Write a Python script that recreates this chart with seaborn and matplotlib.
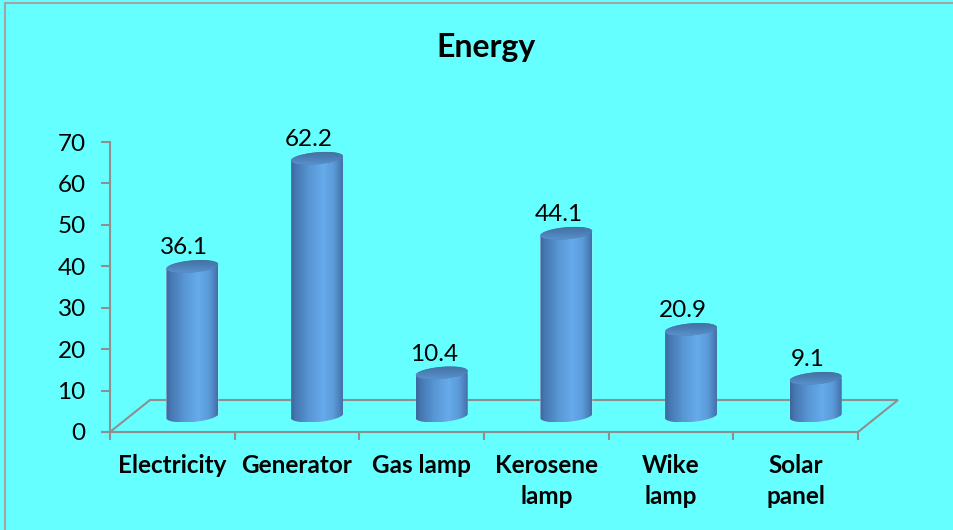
import numpy as np
import matplotlib
matplotlib.use("Agg")
import matplotlib.pyplot as plt
import matplotlib.transforms as mtransforms
from matplotlib.patches import Polygon, Rectangle
from matplotlib.colors import LinearSegmentedColormap
import pandas as pd
import seaborn as sns

# ---- data -------------------------------------------------------------
categories = ["Electricity", "Generator", "Gas lamp", "Kerosene\nlamp", "Wike\nlamp", "Solar\npanel"]
values = [36.1, 62.2, 10.4, 44.1, 20.9, 9.1]
y_ticks = [0, 10, 20, 30, 40, 50, 60, 70]
title = "Energy"

# ---- style ------------------------------------------------------------
BG = "#66FFFF"
AXIS_GREY = "#8f8f8f"
W, H, DPI = 954, 530, 100

sns.set_theme(style="white")
plt.rcParams["font.family"] = ["Lato", "DejaVu Sans"]

fig = plt.figure(figsize=(W / DPI, H / DPI), dpi=DPI, facecolor=BG)

# plot area (pixels): front floor edge at y=432, top of value axis at y=142
L, R, B, T = 110, 858, 432, 142
ax = fig.add_axes([L / W, (H - B) / H, (R - L) / W, (B - T) / H])
ax.set_facecolor("none")

df = pd.DataFrame({"source": categories, "share": values})
sns.barplot(data=df, x="source", y="share", ax=ax, width=0.417,
            color="#4f86c4", saturation=1, errorbar=None, zorder=3)

n = len(categories)
ax.set_xlim(-0.5, n - 0.5)
ax.set_ylim(0, 70)
ax.set_autoscale_on(False)
ax.set_xlabel("")
ax.set_ylabel("")

# axes decoration
for s in ["top", "right", "bottom"]:
    ax.spines[s].set_visible(False)
ax.spines["left"].set_color(AXIS_GREY)
ax.spines["left"].set_linewidth(1.5)
ax.set_yticks(y_ticks)
ax.tick_params(axis="y", left=True, length=6.5, width=1.5, color=AXIS_GREY,
               pad=11, labelsize=17.5, labelcolor="black")
ax.set_xticks(np.arange(n))
ax.set_xticklabels(categories)
ax.set_xticks(np.arange(-0.5, n, 1.0), minor=True)
ax.tick_params(axis="x", which="major", length=0, pad=16, labelsize=17.5, labelcolor="black")
ax.tick_params(axis="x", which="minor", bottom=True, length=5.5, width=1.5, color=AXIS_GREY)
for lbl in ax.get_xticklabels():
    lbl.set_fontweight("bold")
    lbl.set_linespacing(1.4)

inv = ax.transData.inverted()


def to_px(x, y):
    return ax.transData.transform((x, y))


def to_data(pts):
    return inv.transform(np.asarray(pts))


# ---- floor (depth: 40 px right, 32 px up) -----------------------------
FDX, FDY = 40, 32
f0 = to_px(-0.5, 0)
f1 = to_px(n - 0.5, 0)
floor_px = [f0, f1, f1 + [FDX, FDY], f0 + [FDX, FDY]]
floor = Polygon(to_data(floor_px), closed=True, facecolor="none",
                edgecolor=AXIS_GREY, linewidth=1.5, zorder=2, clip_on=False)
ax.add_patch(floor)

# ---- cylinders (standing at mid depth) --------------------------------
DX, DY = FDX / 2, FDY / 2
offset = mtransforms.ScaledTranslation(DX / DPI, DY / DPI, fig.dpi_scale_trans)
theta = np.deg2rad(5)
b_ell = 6.0

body_cmap = LinearSegmentedColormap.from_list(
    "body", [(0.0, "#3a679b"), (0.08, "#4576b0"), (0.35, "#5896d4"),
             (0.62, "#66abeb"), (0.82, "#5b9bd9"), (0.95, "#4a7cb8"),
             (1.0, "#3e6da4")])
cap_cmap = LinearSegmentedColormap.from_list(
    "cap", [(0.0, "#5a92cc"), (0.5, "#4c80b9"), (1.0, "#44739f")])


def ellipse_pts(cx, cy, a, b, t):
    x = cx + a * np.cos(t) * np.cos(theta) - b * np.sin(t) * np.sin(theta)
    y = cy + a * np.cos(t) * np.sin(theta) + b * np.sin(t) * np.cos(theta)
    return np.column_stack([x, y])


bars = [p for p in ax.patches if isinstance(p, Rectangle) and p is not floor]
grad = np.linspace(0, 1, 256).reshape(1, -1)
vgrad = np.linspace(0, 1, 64).reshape(-1, 1)
for p in bars:
    x0, w, h = p.get_x(), p.get_width(), p.get_height()
    p.set_transform(ax.transData + offset)
    bl = to_px(x0, 0) + [DX, DY]
    tr = to_px(x0 + w, h) + [DX, DY]
    cx = (bl[0] + tr[0]) / 2
    a = (tr[0] - bl[0]) / 2
    y_bot, y_top = bl[1], tr[1]

    # side of the cylinder: vertical walls closed by the lower half of the base ellipse
    lower = ellipse_pts(cx, y_bot, a, b_ell, np.linspace(np.pi, 2 * np.pi, 60))
    top_r = ellipse_pts(cx, y_top, a, b_ell, np.array([2 * np.pi]))
    top_l = ellipse_pts(cx, y_top, a, b_ell, np.array([np.pi]))
    body_px = np.vstack([top_l, lower, top_r])
    body = Polygon(to_data(body_px), closed=True, facecolor="none",
                   edgecolor="none", transform=ax.transData)
    ax.add_patch(body)
    p.set_clip_path(body)

    xmin, xmax = body_px[:, 0].min(), body_px[:, 0].max()
    ymin, ymax = body_px[:, 1].min(), body_px[:, 1].max()
    (dx0, dy0), (dx1, dy1) = to_data([(xmin, ymin), (xmax, ymax)])
    im = ax.imshow(grad, extent=(dx0, dx1, dy0, dy1), aspect="auto",
                   cmap=body_cmap, origin="lower", zorder=4, interpolation="bilinear")
    im.set_clip_path(body)

    # top cap
    cap_px = ellipse_pts(cx, y_top, a, b_ell, np.linspace(0, 2 * np.pi, 100))
    cap = Polygon(to_data(cap_px), closed=True, facecolor="#4b7eb6",
                  edgecolor="none", zorder=5)
    ax.add_patch(cap)
    cxmin, cxmax = cap_px[:, 0].min(), cap_px[:, 0].max()
    cymin, cymax = cap_px[:, 1].min(), cap_px[:, 1].max()
    (ex0, ey0), (ex1, ey1) = to_data([(cxmin, cymin), (cxmax, cymax)])
    im2 = ax.imshow(vgrad, extent=(ex0, ex1, ey0, ey1), aspect="auto",
                    cmap=cap_cmap, origin="lower", zorder=6, interpolation="bilinear")
    im2.set_clip_path(cap)

ax.set_xlim(-0.5, n - 0.5)
ax.set_ylim(0, 70)

# value labels above each cylinder
for i, v in enumerate(values):
    ax.annotate(f"{v:.1f}", xy=(i, v), xytext=(12, 28), textcoords="offset pixels",
                ha="center", va="baseline", fontsize=17.5, color="black",
                zorder=7, annotation_clip=False)

# title
fig.text(486 / W, (H - 57) / H, title, ha="center", va="baseline",
         fontsize=23, fontweight="bold", color="black")

# chart frame
fig.add_artist(Rectangle((5, -10), W + 20, H - 3 + 10, facecolor="none",
                         edgecolor="#a3a3a3", linewidth=1.5,
                         transform=mtransforms.IdentityTransform()))

fig.savefig("out.png", dpi=DPI, facecolor=BG)
